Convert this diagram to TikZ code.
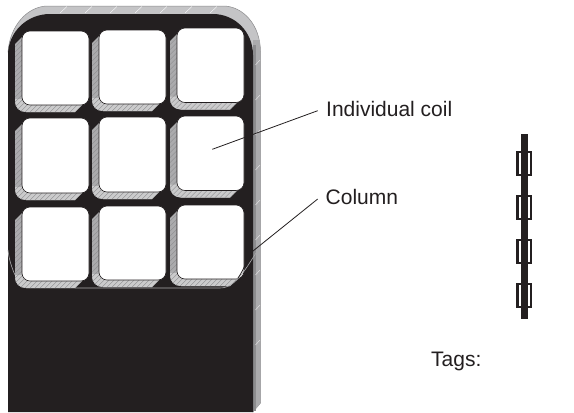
\documentclass[tikz,border=0pt]{standalone}
\usepackage{fontspec}
\setmainfont{Liberation Sans}
\definecolor{ink}{HTML}{231F20}
\definecolor{leftgray}{HTML}{ABABAD}
\definecolor{botgray}{HTML}{CBCBCC}
\definecolor{stripdark}{HTML}{8C8C8E}
\definecolor{stripgray}{HTML}{ABABAD}
\definecolor{bandgray}{HTML}{C4C4C6}
\tikzset{
  lab/.style={font=\fontsize{21}{24}\selectfont,text=ink,inner sep=0pt,anchor=base west},
  leader/.style={draw=ink,line width=0.8pt},
  hair/.style={draw=#1,line width=0.35pt},
  coilface/.style={fill=white,draw=ink,line width=0.6pt,rounded corners=8pt},
}
% #1 x0, #2 y top, #3 y bottom, #4 width of white window
\newcommand{\coilcell}[4]{%
  \begin{scope}
    \clip (#1,#2+6) -- (#1-7,#2+13) -- (#1-7,#3-4)
      .. controls (#1-7,#3+2) and (#1-3,#3+7) .. (#1+4,#3+7)
      -- (#1+#4-14,#3+7) -- (#1+#4-7,#3) -- (#1+#4-7,#3-10) -- (#1,#3-10) -- cycle;
    \fill[leftgray] (#1-10,#2) rectangle (#1+#4,#3+10);
    \fill[botgray] (#1-8,#3-6) -- (#1+8,#3-6) -- (#1+#4,#3-6) -- (#1+#4,#3+10) -- (#1-8,#3+10) -- cycle;
    \foreach \d in {-80,-75,...,70}{
      \draw[hair=stripdark] (#1+\d,#3+10) -- ++(90,-90);
    }
  \end{scope}
  \draw[coilface] (#1,#2) rectangle (#1+#4,#3);
}
% #1 y top of the tag clip
\newcommand{\tagclip}[1]{%
  \draw[ink,line width=2.3pt,line cap=butt] (521,#1+1) -- (517.4,#1+1) -- (517.4,#1+24) -- (521,#1+24);
  \draw[ink,line width=2.3pt,line cap=butt] (528,#1+1) -- (531,#1+1) -- (531,#1+24) -- (528,#1+24);
}
\begin{document}
\begin{tikzpicture}[x=1pt,y=-1pt]
\useasboundingbox (0,0) rectangle (574,413);
\fill[white] (0,0) rectangle (574,413);
% gray back edge of the core
\fill[bandgray,draw=stripdark,line width=0.5pt] (8,52) .. controls (10,25) and (28,6) .. (48,6)
  -- (223,6) .. controls (243,6) and (260.5,25) .. (260.5,52) -- (260.5,403) -- (253,412) -- cycle;
\fill[stripgray] (253,40) rectangle (260.3,403.5);
\fill[stripgray] (253,403.5) -- (260.3,403.5) -- (253,411.5) -- cycle;
\fill[stripdark] (253,45) rectangle (255.5,411);
\foreach \yy in {60,95,130,165,200,235,270,305,340}{
  \draw[hair=white!80!stripgray] (255.5,\yy+5) -- (260,\yy);
}
\foreach \xx in {60,85,110,135,160,185,210}{
  \draw[hair=white] (\xx,13) -- (\xx+7,6.5);
}
% black face
\fill[ink] (8,412) -- (8,55) .. controls (8,32) and (27,14) .. (50,14)
  -- (213,14) .. controls (235,14) and (253,32) .. (253,55) -- (253,412) -- cycle;
% coils
\coilcell{22}{31}{105}{67}
\coilcell{99}{30}{104}{67}
\coilcell{177}{28}{102.5}{67}
\coilcell{22}{118}{193}{67}
\coilcell{99}{117}{192}{67}
\coilcell{177}{116}{190.5}{67}
\coilcell{22}{207}{281}{67}
\coilcell{99}{206}{280}{67}
\coilcell{177}{205}{279}{67}
% column outline
\draw[hair=leftgray,line width=0.6pt] (8,250) .. controls (9,260) and (12,268) .. (15,275);
\draw[hair=leftgray,line width=0.6pt] (75,288) -- (220,288) .. controls (236,288) and (246,268) .. (258,250);
% tag sketch
\fill[ink] (520.7,134.3) rectangle (528.3,319);
\tagclip{151}
\tagclip{195}
\tagclip{239}
\tagclip{283}
% labels
\node[lab] (indiv) at (326,116) {Individual coil};
\node[lab] (col) at (325.5,204) {Column};
\node[lab] (tags) at (431,366) {Tags:};
\coordinate (indivend) at (317.7,110.7);
\coordinate (indivtip) at (212.3,149.3);
\coordinate (colend) at (317.7,199);
\coordinate (colbend) at (253,251);
\coordinate (coltip) at (238,278);
\draw[leader] (indivend) -- (indivtip);
\draw[leader] (colend) -- (colbend) .. controls (247,258) and (244,270) .. (coltip);
\end{tikzpicture}
\end{document}
